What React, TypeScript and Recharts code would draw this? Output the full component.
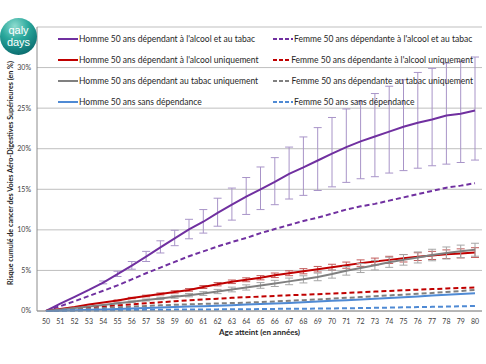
import { LineChart, Line, XAxis, YAxis, CartesianGrid, ErrorBar } from 'recharts';

const ages = [50, 51, 52, 53, 54, 55, 56, 57, 58, 59, 60, 61, 62, 63, 64, 65, 66, 67, 68, 69, 70, 71, 72, 73, 74, 75, 76, 77, 78, 79, 80];

const yTicks = [0, 5, 10, 15, 20, 25, 30, 35];

// Homme 50 ans dépendant à l'alcool et au tabac (%)
const hommeAlcoolTabac = [0, 0.9, 1.75, 2.6, 3.5, 4.55, 5.6, 6.7, 7.85, 8.95, 10.05, 11.0, 12.1, 13.1, 14.1, 15.0, 15.9, 16.9, 17.7, 18.55, 19.4, 20.2, 20.9, 21.5, 22.1, 22.7, 23.2, 23.6, 24.1, 24.3, 24.7];
const hommeAlcoolTabacErrLow = [0, 0, 0, 0, 0.15, 0.3, 0.45, 0.6, 0.7, 0.9, 1.15, 1.4, 1.65, 1.9, 2.2, 2.5, 2.8, 3.1, 3.45, 3.7, 4.1, 4.35, 4.6, 4.95, 5.1, 5.4, 5.6, 5.7, 6.0, 6.0, 6.1];
const hommeAlcoolTabacErrHigh = [0, 0, 0, 0, 0.2, 0.35, 0.5, 0.65, 0.8, 1.0, 1.25, 1.5, 1.8, 2.05, 2.35, 2.75, 3.0, 3.3, 3.75, 4.05, 4.45, 4.7, 4.95, 5.3, 5.6, 5.8, 6.2, 6.3, 6.45, 6.45, 6.6];

// Femme 50 ans dépendante à l'alcool et au tabac
const femmeAlcoolTabac = [0, 0.6, 1.2, 1.85, 2.5, 3.15, 3.9, 4.65, 5.35, 6.05, 6.75, 7.35, 7.95, 8.5, 9.0, 9.6, 10.1, 10.6, 11.1, 11.5, 12.0, 12.5, 12.9, 13.2, 13.6, 14.0, 14.4, 14.8, 15.2, 15.45, 15.75];

// Homme 50 ans dépendant à l'alcool uniquement
const hommeAlcool = [0, 0.25, 0.5, 0.8, 1.05, 1.3, 1.6, 1.85, 2.1, 2.35, 2.6, 2.95, 3.3, 3.6, 3.85, 4.1, 4.4, 4.65, 4.9, 5.15, 5.4, 5.65, 5.9, 6.1, 6.3, 6.5, 6.7, 6.85, 7.0, 7.1, 7.2];
const hommeAlcoolErr = [0, 0, 0, 0, 0, 0.05, 0.08, 0.1, 0.12, 0.14, 0.16, 0.18, 0.2, 0.22, 0.24, 0.26, 0.28, 0.3, 0.32, 0.34, 0.36, 0.38, 0.4, 0.42, 0.44, 0.46, 0.48, 0.5, 0.53, 0.56, 0.6];

// Femme 50 ans dépendante à l'alcool uniquement
const femmeAlcool = [0, 0.12, 0.28, 0.42, 0.56, 0.7, 0.82, 0.95, 1.08, 1.2, 1.32, 1.42, 1.52, 1.62, 1.7, 1.78, 1.86, 1.94, 2.0, 2.07, 2.15, 2.23, 2.31, 2.39, 2.47, 2.55, 2.63, 2.7, 2.77, 2.84, 2.9];

// Homme 50 ans dépendant au tabac uniquement
const hommeTabac = [0, 0.18, 0.36, 0.55, 0.75, 0.95, 1.15, 1.35, 1.55, 1.75, 1.95, 2.15, 2.4, 2.65, 2.9, 3.15, 3.4, 3.65, 3.9, 4.2, 4.55, 4.95, 5.3, 5.65, 6.0, 6.3, 6.6, 6.9, 7.15, 7.35, 7.55];
const hommeTabacErr = [0, 0, 0, 0, 0, 0.06, 0.09, 0.12, 0.15, 0.18, 0.2, 0.23, 0.26, 0.29, 0.32, 0.35, 0.38, 0.41, 0.44, 0.47, 0.5, 0.53, 0.56, 0.59, 0.62, 0.65, 0.68, 0.71, 0.74, 0.77, 0.8];

// Femme 50 ans dépendante au tabac uniquement
const femmeTabac = [0, 0.08, 0.18, 0.28, 0.38, 0.46, 0.54, 0.62, 0.7, 0.76, 0.82, 0.88, 0.93, 0.98, 1.03, 1.1, 1.18, 1.26, 1.34, 1.42, 1.52, 1.62, 1.72, 1.82, 1.92, 2.02, 2.12, 2.22, 2.34, 2.46, 2.6];

// Homme 50 ans sans dépendance
const hommeSans = [0, 0.04, 0.09, 0.14, 0.2, 0.25, 0.3, 0.36, 0.42, 0.48, 0.54, 0.6, 0.66, 0.72, 0.79, 0.86, 0.93, 1.0, 1.08, 1.16, 1.25, 1.34, 1.43, 1.52, 1.61, 1.7, 1.8, 1.9, 2.0, 2.1, 2.2];

// Femme 50 ans sans dépendance
const femmeSans = [0, 0.02, 0.04, 0.06, 0.08, 0.1, 0.12, 0.14, 0.16, 0.17, 0.18, 0.19, 0.2, 0.21, 0.22, 0.24, 0.26, 0.27, 0.28, 0.3, 0.32, 0.34, 0.36, 0.39, 0.42, 0.45, 0.48, 0.51, 0.54, 0.58, 0.62];

const series = [
  { key: 'hAT', name: "Homme 50 ans dépendant à l'alcool et au tabac", color: '#7030A0', dashed: false },
  { key: 'fAT', name: "Femme 50 ans dépendante à l'alcool et au tabac", color: '#7030A0', dashed: true },
  { key: 'hA', name: "Homme 50 ans dépendant à l'alcool uniquement", color: '#C00000', dashed: false },
  { key: 'fA', name: "Femme 50 ans dépendante à l'alcool uniquement", color: '#C00000', dashed: true },
  { key: 'hT', name: 'Homme 50 ans dépendant au tabac uniquement', color: '#808080', dashed: false },
  { key: 'fT', name: 'Femme 50 ans dépendante au tabac uniquement', color: '#808080', dashed: true },
  { key: 'hS', name: 'Homme 50 ans sans dépendance', color: '#4F8AD4', dashed: false },
  { key: 'fS', name: 'Femme 50 ans sans dépendance', color: '#4F8AD4', dashed: true },
];

const data = ages.map((age, i) => ({
  age,
  hAT: hommeAlcoolTabac[i],
  hATErr: hommeAlcoolTabacErrHigh[i] > 0 ? [hommeAlcoolTabacErrLow[i], hommeAlcoolTabacErrHigh[i]] : null,
  fAT: femmeAlcoolTabac[i],
  hA: hommeAlcool[i],
  hAErr: hommeAlcoolErr[i] > 0 ? hommeAlcoolErr[i] : null,
  fA: femmeAlcool[i],
  hT: hommeTabac[i],
  hTErr: hommeTabacErr[i] > 0 ? hommeTabacErr[i] : null,
  fT: femmeTabac[i],
  hS: hommeSans[i],
  fS: femmeSans[i],
}));

const FONT = 'Lato, "Liberation Sans", sans-serif';

const errorColors: Record<string, string> = {
  hAT: '#A894C8',
  hA: '#C25A5A',
  hT: '#A6A6A6',
};

const YTitle = ({ viewBox }: any) => {
  const cx = 10;
  const cy = viewBox.y + viewBox.height / 2 + 4;
  return (
    <text
      x={cx}
      y={cy}
      transform={`rotate(-90, ${cx}, ${cy})`}
      textAnchor="middle"
      dominantBaseline="central"
      fontSize={7.2}
      fontWeight="bold"
      fill="#262626"
      fontFamily={FONT}
    >
      Risque cumulé de cancer des Voies Aéro-Digestives Supérieures (en %)
    </text>
  );
};

const XTitle = ({ viewBox }: any) => (
  <text
    x={viewBox.x + viewBox.width / 2}
    y={335}
    textAnchor="middle"
    fontSize={8}
    fontWeight="bold"
    fill="#262626"
    fontFamily={FONT}
  >
    Age atteint (en années)
  </text>
);

function Logo() {
  return (
    <div
      style={{
        position: 'absolute',
        left: 0,
        top: 18,
        width: 37,
        height: 37,
        borderRadius: '50%',
        background: 'radial-gradient(circle at 40% 22%, #8fdccf 0%, #2aa89c 38%, #0f7576 75%, #0a5558 100%)',
        color: '#fff',
        fontFamily: '"Liberation Sans", Arial, sans-serif',
        fontSize: 11,
        lineHeight: '12px',
        textAlign: 'center',
        paddingTop: 6,
        boxSizing: 'border-box',
      }}
    >
      <div style={{ height: 12 }}>qaly</div>
      <div style={{ height: 12 }}>days</div>
    </div>
  );
}

function LegendBox() {
  return (
    <div
      style={{
        position: 'absolute',
        left: 58,
        top: 32,
        display: 'grid',
        gridTemplateColumns: '215px 200px',
        gridAutoRows: '21px',
        fontFamily: FONT,
        fontSize: 8.5,
        color: '#262626',
      }}
    >
      {series.map((s) => (
        <div key={s.key} style={{ display: 'flex', alignItems: 'center', height: 14, whiteSpace: 'nowrap' }}>
          <svg width={20} height={4} style={{ marginRight: 1 }}>
            <line
              x1={0}
              y1={2}
              x2={20}
              y2={2}
              stroke={s.color}
              strokeWidth={2}
              strokeDasharray={s.dashed ? '4 2' : undefined}
            />
          </svg>
          <span>{s.name}</span>
        </div>
      ))}
    </div>
  );
}

export default function App() {
  return (
    <div style={{ position: 'absolute', left: 0, top: 0, width: 486, height: 364, background: '#fff' }}>
      <LineChart width={486} height={364} data={data} margin={{ top: 27, right: 4, bottom: 23, left: 0 }}>
        <CartesianGrid vertical={false} stroke="#BFBFBF" />
        <XAxis
          dataKey="age"
          height={30}
          padding={{ left: 9, right: 7 }}
          interval={0}
          tickLine={false}
          tickSize={0}
          tickMargin={8}
          stroke="#8C8C8C"
          tick={{ fontSize: 7, fill: '#404040', fontFamily: FONT }}
          label={<XTitle />}
        />
        <YAxis
          width={37}
          domain={[0, 35]}
          ticks={yTicks}
          interval={0}
          tickLine={false}
          tickSize={0}
          tickMargin={6}
          stroke="#8C8C8C"
          tickFormatter={(v: number) => (v === 35 ? '' : `${v}%`)}
          tick={{ fontSize: 7, fill: '#404040', fontFamily: FONT }}
          label={<YTitle />}
        />
        {series.map((s) => (
          <Line
            key={s.key}
            type="linear"
            dataKey={s.key}
            name={s.name}
            stroke={s.color}
            strokeWidth={2}
            strokeDasharray={s.dashed ? '5 3' : undefined}
            dot={false}
            activeDot={false}
            isAnimationActive={false}
          >
            {errorColors[s.key] && (
              <ErrorBar
                dataKey={`${s.key}Err`}
                direction="y"
                width={4}
                strokeWidth={1}
                stroke={errorColors[s.key]}
                isAnimationActive={false}
              />
            )}
          </Line>
        ))}
      </LineChart>
      <LegendBox />
      <Logo />
    </div>
  );
}
